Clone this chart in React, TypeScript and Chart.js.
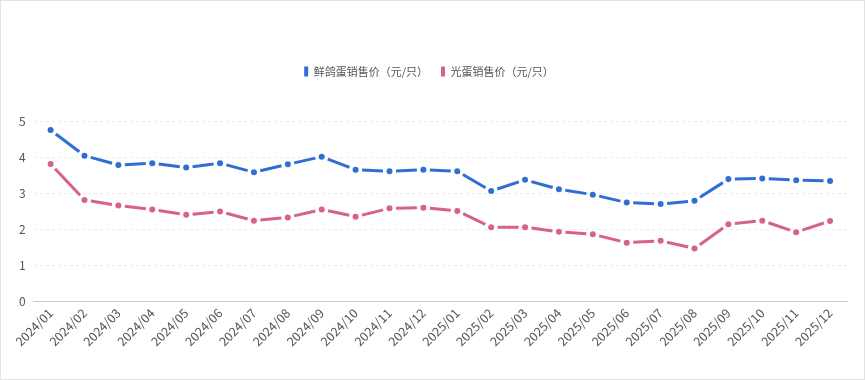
import React, { useEffect, useRef } from "react";
import { Chart, registerables } from "chart.js";

Chart.register(...registerables);

const categories = [
  "2024/01", "2024/02", "2024/03", "2024/04", "2024/05", "2024/06",
  "2024/07", "2024/08", "2024/09", "2024/10", "2024/11", "2024/12",
  "2025/01", "2025/02", "2025/03", "2025/04", "2025/05", "2025/06",
  "2025/07", "2025/08", "2025/09", "2025/10", "2025/11", "2025/12",
];

const pigeonEgg = [
  4.75, 4.04, 3.78, 3.83, 3.71, 3.83, 3.58, 3.8, 4.01, 3.65, 3.61, 3.65,
  3.61, 3.06, 3.37, 3.11, 2.96, 2.74, 2.7, 2.79, 3.39, 3.41, 3.36, 3.34,
];

const plainEgg = [
  3.81, 2.81, 2.66, 2.55, 2.4, 2.49, 2.24, 2.33, 2.55, 2.35, 2.58, 2.6,
  2.51, 2.06, 2.06, 1.93, 1.86, 1.63, 1.68, 1.47, 2.14, 2.24, 1.92, 2.23,
];

const seriesNames = ["鲜鸽蛋销售价（元/只）", "光蛋销售价（元/只）"];

const FONT = "'Noto Sans CJK SC', 'Noto Sans', sans-serif";
const GAP = 6.5;

const legendSpacer = {
  id: "legendSpacer",
  beforeInit(chart: any) {
    const orig = chart.legend.fit;
    chart.legend.fit = function () {
      orig.call(this);
      this.height += 34;
    };
  },
};

const segLen = (ctx: any) => {
  const ch = ctx.chart;
  const xs = ch && ch.scales && ch.scales.x;
  const ys = ch && ch.scales && ch.scales.y;
  if (xs && ys && ctx.p0 && ctx.p1 && ctx.p0.parsed && ctx.p1.parsed) {
    const x0 = xs.getPixelForValue(ctx.p0DataIndex);
    const x1 = xs.getPixelForValue(ctx.p1DataIndex);
    const y0 = ys.getPixelForValue(ctx.p0.parsed.y);
    const y1 = ys.getPixelForValue(ctx.p1.parsed.y);
    const d = Math.hypot(x1 - x0, y1 - y0);
    if (isFinite(d) && d > 0) return d;
  }
  return 34;
};

const segmentStyle = {
  borderDash: (ctx: any) => {
    const d = segLen(ctx);
    return [Math.max(d - 2 * GAP, 1), 2 * GAP];
  },
  borderDashOffset: (ctx: any) => segLen(ctx) - GAP + ctx.p0DataIndex * 1e-4,
};

export default function App() {
  const ref = useRef<HTMLCanvasElement | null>(null);

  useEffect(() => {
    document.body.style.margin = "0";
    if (!ref.current) return;
    const chart = new Chart(ref.current, {
      type: "line",
      plugins: [legendSpacer],
      data: {
        labels: categories,
        datasets: [
          {
            label: seriesNames[0],
            data: pigeonEgg,
            borderColor: "#2f6fd4",
            backgroundColor: "#2f6fd4",
            borderWidth: 3,
            pointRadius: 3,
            pointBorderWidth: 0,
            tension: 0,
            segment: segmentStyle,
          },
          {
            label: seriesNames[1],
            data: plainEgg,
            borderColor: "#d8608c",
            backgroundColor: "#d8608c",
            borderWidth: 3,
            pointRadius: 3,
            pointBorderWidth: 0,
            tension: 0,
            segment: segmentStyle,
          },
        ],
      },
      options: {
        animation: false,
        responsive: false,
        maintainAspectRatio: false,
        layout: { padding: { top: 52, left: 10, right: 17, bottom: 26 } },
        plugins: {
          legend: {
            position: "top",
            labels: {
              boxWidth: 4,
              boxHeight: 10,
              padding: 13,
              color: "#555",
              font: { family: FONT, size: 11 },
              generateLabels: (c: any) => {
                const items = Chart.defaults.plugins.legend.labels.generateLabels(c);
                return items.map((it: any) => ({ ...it, lineWidth: 0, lineDash: [] }));
              },
            },
          },
          tooltip: { enabled: false },
        },
        scales: {
          x: {
            offset: true,
            grid: { display: false, drawTicks: false },
            border: { display: true, color: "#c8c8c8", width: 1 },
            ticks: {
              color: "#555",
              font: { family: FONT, size: 12.5 },
              maxRotation: 45,
              minRotation: 45,
              autoSkip: false,
              padding: 4,
            },
          },
          y: {
            min: 0,
            max: 5,
            ticks: {
              stepSize: 1,
              color: "#555",
              font: { family: FONT, size: 12 },
              padding: 8,
            },
            grid: { color: "#ececec", drawTicks: false },
            border: { display: false, dash: [3, 3] },
          },
        },
      },
    });
    return () => chart.destroy();
  }, []);

  return (
    <div
      style={{
        position: "fixed",
        left: 0,
        top: 0,
        width: 865,
        height: 380,
        boxSizing: "border-box",
        border: "1px solid #e2e2e2",
        background: "#fff",
      }}
    >
      <canvas ref={ref} width={863} height={378} style={{ display: "block" }} />
    </div>
  );
}
